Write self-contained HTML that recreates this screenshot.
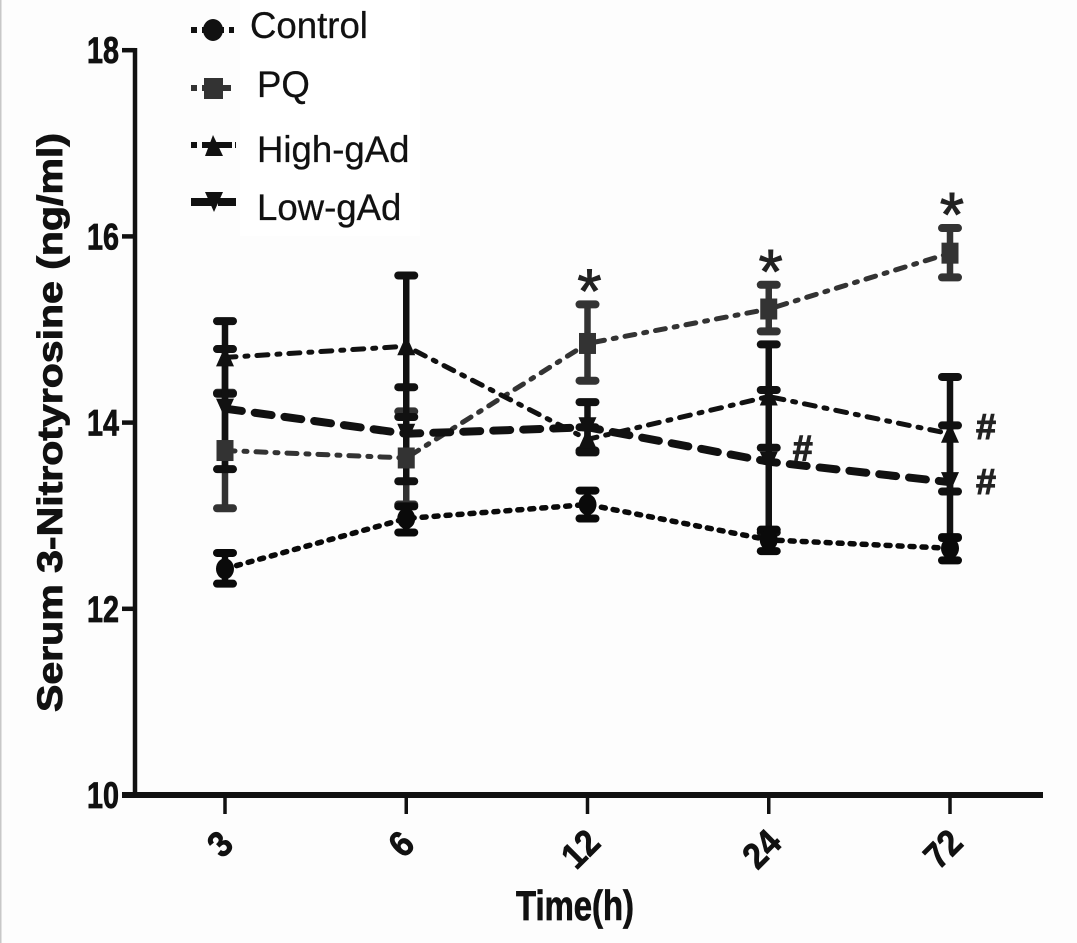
<!DOCTYPE html>
<html>
<head>
<meta charset="utf-8">
<title>Serum 3-Nitrotyrosine chart</title>
<style>
html,body{margin:0;padding:0;background:#fdfdfd;}
#chart{display:block;position:absolute;left:0;top:0;}
text{font-family:"Liberation Sans",sans-serif;}
</style>
</head>
<body>
<svg id="chart" width="1077" height="943" viewBox="0 0 1077 943" xmlns="http://www.w3.org/2000/svg">
  <rect x="0" y="0" width="1077" height="943" fill="#fdfdfd"/>
  <rect x="0" y="0" width="1.5" height="943" fill="#c8c8c8"/>
  <g id="plot"></g>
  <g id="axes"></g>
  <text transform="translate(62,712) rotate(-90)" font-size="35" font-weight="bold" fill="#111" stroke="#111" stroke-width="0.9" textLength="579" lengthAdjust="spacingAndGlyphs">Serum 3-Nitrotyrosine (ng/ml)</text>
  <text x="516" y="920" font-size="42" font-weight="bold" fill="#111" stroke="#111" stroke-width="0.8" textLength="118" lengthAdjust="spacingAndGlyphs">Time(h)</text>
  <g>
    <rect x="240" y="0" width="180" height="236" fill="#ffffff"/>
    <g>
      <line x1="191" y1="30" x2="234" y2="30" stroke="#111" stroke-width="6" stroke-dasharray="6 5 22 5 6 0"/>
      <ellipse cx="213" cy="30" rx="10" ry="11" fill="#111"/>
      <text x="250" y="38" font-size="36.6" fill="#111" stroke="#111" stroke-width="0.3">Control</text>
    </g>
    <g>
      <line x1="191" y1="88" x2="231" y2="88" stroke="#333" stroke-width="6" stroke-dasharray="6 5 30 0"/>
      <rect x="204" y="78" width="19" height="21" fill="#333"/>
      <text x="257" y="97" font-size="36.6" fill="#111" stroke="#111" stroke-width="0.3">PQ</text>
    </g>
    <g>
      <line x1="191" y1="145" x2="236" y2="145" stroke="#111" stroke-width="6" stroke-dasharray="6 5 30 3 5 0"/>
      <path d="M213 135 L223 156 L205 156 Z" fill="#111"/>
      <text x="257" y="162" font-size="36.6" fill="#111" stroke="#111" stroke-width="0.3">High-gAd</text>
    </g>
    <g>
      <line x1="191" y1="202" x2="236" y2="202" stroke="#111" stroke-width="8" stroke-dasharray="24 3 18 0"/>
      <path d="M205 192 L223 192 L214 212 Z" fill="#111"/>
      <text x="257" y="220" font-size="36.6" fill="#111" stroke="#111" stroke-width="0.3">Low-gAd</text>
    </g>
  </g>
</svg>
<script>
const categories = ['3', '6', '12', '24', '72'];
const yTickLabels = [10, 12, 14, 16, 18];

const controlValues = [12.43, 12.97, 13.12, 12.74, 12.65];
const controlUpper = [12.60, 13.10, 13.27, 12.85, 12.77];
const controlLower = [12.27, 12.82, 12.97, 12.62, 12.52];

const pqValues = [13.70, 13.62, 14.85, 15.22, 15.82];
const pqUpper = [14.32, 14.12, 15.27, 15.48, 16.09];
const pqLower = [13.08, 13.12, 14.45, 14.98, 15.56];

const highValues = [14.70, 14.82, 13.82, 14.28, 13.88];
const highUpper = [15.09, 15.58, 13.95, 14.84, 14.49];
const highLower = [14.31, 14.06, 13.70, 13.73, 13.26];

const lowValues = [14.15, 13.88, 13.95, 13.58, 13.36];
const lowUpper = [14.79, 14.38, 14.22, 14.35, 13.97];
const lowLower = [13.50, 13.37, 13.68, 12.82, 12.76];

const asteriskCategories = [2, 3, 4];

const SVGNS = 'http://www.w3.org/2000/svg';
const plot = document.getElementById('plot');
const axes = document.getElementById('axes');

function xScale(i) { return 225 + i * 181.25; }
function yScale(v) { return 795 - (v - 10) * 93.1; }
function make(tag, attrs, parent) {
  const el = document.createElementNS(SVGNS, tag);
  for (const k in attrs) el.setAttribute(k, attrs[k]);
  parent.appendChild(el);
  return el;
}

function drawErrorBars(name, color, upper, lower) {
  upper.forEach(function (u, i) {
    const g = make('g', {}, plot);
    
    
    const x = xScale(i);
    make('line', { x1: x, x2: x, y1: yScale(u), y2: yScale(lower[i]), stroke: color, 'stroke-width': 6.5 }, g);
    make('line', { x1: x - 8, x2: x + 8, y1: yScale(u), y2: yScale(u), stroke: color, 'stroke-width': 8, 'stroke-linecap': 'round' }, g);
    make('line', { x1: x - 8, x2: x + 8, y1: yScale(lower[i]), y2: yScale(lower[i]), stroke: color, 'stroke-width': 8, 'stroke-linecap': 'round' }, g);
  });
}

function drawLine(name, color, values, width, dash) {
  const pts = values.map(function (v, i) { return xScale(i) + ',' + yScale(v); }).join(' ');
  const line = make('polyline', { points: pts, fill: 'none', stroke: color, 'stroke-width': width, 'stroke-dasharray': dash, 'stroke-linecap': 'round' }, plot);
  
  
}

function drawMarkers(name, color, values, shape) {
  values.forEach(function (v, i) {
    const x = xScale(i), y = yScale(v);
    let m;
    if (shape === 'circle') {
      m = make('ellipse', { cx: x, cy: y, rx: 9, ry: 10.5, fill: color }, plot);
    } else if (shape === 'square') {
      m = make('rect', { x: x - 8.5, y: y - 10.5, width: 17, height: 21, fill: color }, plot);
    } else if (shape === 'up') {
      m = make('path', { d: 'M' + x + ' ' + (y - 11) + ' L' + (x + 9) + ' ' + (y + 9) + ' L' + (x - 9) + ' ' + (y + 9) + ' Z', fill: color }, plot);
    } else {
      m = make('path', { d: 'M' + (x - 9) + ' ' + (y - 10) + ' L' + (x + 9) + ' ' + (y - 10) + ' L' + x + ' ' + (y + 10) + ' Z', fill: color }, plot);
    }
    
    
  });
}

drawErrorBars('pq', '#333', pqUpper, pqLower);
drawErrorBars('high-gad', '#111', highUpper, highLower);
drawErrorBars('low-gad', '#111', lowUpper, lowLower);
drawErrorBars('control', '#0a0a0a', controlUpper, controlLower);

drawLine('pq', '#333', pqValues, 5, '10 9 3 9');
drawLine('high-gad', '#111', highValues, 5, '11 9 3 9');
drawLine('control', '#0a0a0a', controlValues, 5.5, '4 8');
drawLine('low-gad', '#111', lowValues, 8, '17 13');

drawMarkers('pq', '#333', pqValues, 'square');
drawMarkers('high-gad', '#111', highValues, 'up');
drawMarkers('low-gad', '#111', lowValues, 'down');
drawMarkers('control', '#0a0a0a', controlValues, 'circle');

asteriskCategories.forEach(function (i) {
  const t = make('text', { x: xScale(i) + 2, y: yScale(pqUpper[i]) + 8, 'font-size': 62, fill: '#222', stroke: '#222', 'stroke-width': 1, 'text-anchor': 'middle' }, plot);
  
  
  t.textContent = '*';
});

const hashLow24 = make('text', { x: xScale(3) + 34, y: yScale(lowValues[3]) - 1, 'font-size': 36, 'font-weight': 'bold', fill: '#222', stroke: '#222', 'stroke-width': 1, 'text-anchor': 'middle' }, plot);


hashLow24.textContent = '#';

const hashHigh72 = make('text', { x: xScale(4) + 36, y: yScale(highValues[4]) + 5, 'font-size': 36, 'font-weight': 'bold', fill: '#222', stroke: '#222', 'stroke-width': 1, 'text-anchor': 'middle' }, plot);


hashHigh72.textContent = '#';

const hashLow72 = make('text', { x: xScale(4) + 36, y: yScale(lowValues[4]) + 12, 'font-size': 36, 'font-weight': 'bold', fill: '#222', stroke: '#222', 'stroke-width': 1, 'text-anchor': 'middle' }, plot);


hashLow72.textContent = '#';

const yAxisLine = make('line', { x1: 135, x2: 135, y1: 48, y2: 797, stroke: '#111', 'stroke-width': 4.5 }, axes);



const xAxisLine = make('line', { x1: 122, x2: 1043, y1: 795, y2: 795, stroke: '#111', 'stroke-width': 6 }, axes);



yTickLabels.forEach(function (v) {
  const y = yScale(v);
  const tick = make('line', { x1: 122, x2: 135, y1: y, y2: y, stroke: '#111', 'stroke-width': 4.5 }, axes);
  
  
  const label = make('text', { x: 87, y: y + 13, 'font-size': 37, 'font-weight': 'bold', fill: '#111', stroke: '#111', 'stroke-width': 0.8, textLength: 32, lengthAdjust: 'spacingAndGlyphs' }, axes);
  
  
  label.textContent = v;
});

categories.forEach(function (c, i) {
  const x = xScale(i);
  const tick = make('line', { x1: x, x2: x, y1: 795, y2: 814, stroke: '#111', 'stroke-width': 3.5 }, axes);
  
  
  const off = c.length > 1 ? 6 : 4;
  const label = make('text', {
    transform: 'translate(' + (x - off) + ',' + (845 + (c.length > 1 ? 5 : 0)) + ') rotate(-45) scale(1,1.1)',
    'font-size': 33, 'font-weight': 'bold', fill: '#111', stroke: '#111', 'stroke-width': 0.7, 'text-anchor': 'middle', y: 10
  }, axes);
  
  
  label.textContent = c;
});
</script>
</body>
</html>
